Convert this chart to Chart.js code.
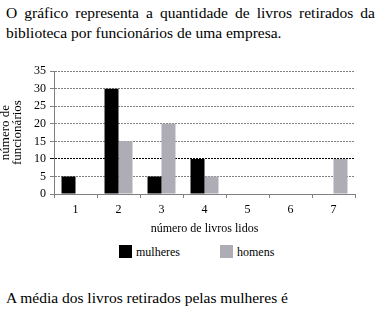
<!DOCTYPE html>
<html>
<head>
<meta charset="utf-8">
<script src="https://cdn.jsdelivr.net/npm/chart.js@4"></script>
<style>
  body { margin: 0; background: #fff; width: 379px; height: 309px; overflow: hidden; }
  .txt { position: absolute; left: 6px; width: 369px; font-family: "Liberation Serif", "Times New Roman", Times, serif; font-size: 15.5px; line-height: 20px; color: #000; text-align: justify; text-align-last: left; }
  #top { top: 3px; }
  #bottom { top: 288px; }
  #wrap { position: absolute; left: 0; top: 60px; width: 379px; height: 180px; }
  #legend { position: absolute; top: 245px; left: 0; width: 379px; height: 16px; font-family: "Liberation Serif", "Times New Roman", Times, serif; font-size: 12px; color: #000; }
  .item { position: absolute; top: 0; line-height: 14px; }
  .box { display: inline-block; width: 13px; height: 13px; vertical-align: top; margin-right: 4px; }
</style>
</head>
<body>
<div class="txt" id="top">O gráfico representa a quantidade de livros retirados da biblioteca por funcionários de uma empresa.</div>
<div id="wrap"><canvas id="chart"></canvas></div>
<div id="legend"></div>
<div class="txt" id="bottom">A média dos livros retirados pelas mulheres é</div>
<script>
var livros = ['1', '2', '3', '4', '5', '6', '7'];
var mulheres = [5, 30, 5, 10, 0, 0, 0];
var homens = [0, 15, 20, 5, 0, 0, 10];
var yTicks = [0, 5, 10, 15, 20, 25, 30, 35];

var serif = '"Liberation Serif", "Times New Roman", Times, serif';

var ctx = document.getElementById('chart');
var chart = new Chart(ctx, {
    type: 'bar',
    data: {
        labels: livros,
        datasets: [
            { label: 'mulheres', data: mulheres, backgroundColor: '#000000' },
            { label: 'homens', data: homens, backgroundColor: '#aeacb4' }
        ]
    },
    options: {
        responsive: true,
        maintainAspectRatio: false,
        animation: false,
        datasets: { bar: { categoryPercentage: 0.65, barPercentage: 1.0 } },
        layout: { padding: { top: 10, right: 24, left: 0, bottom: 0 } },
        plugins: {
            tooltip: { enabled: false },
            legend: { display: false }
        },
        scales: {
            x: {
                afterFit: function (scale) { scale.height = 46; },
                grid: { drawOnChartArea: false, drawTicks: true, tickLength: 4, color: '#808080', offset: true },
                border: { color: '#808080', width: 1 },
                ticks: { color: '#000', font: { family: serif, size: 12 }, padding: 5 },
                title: { display: true, text: 'número de livros lidos', color: '#000', font: { family: serif, size: 12 }, padding: { top: 4, bottom: 4 } }
            },
            y: {
                min: 0,
                max: 35,
                afterBuildTicks: function (scale) {
                    scale.ticks = yTicks.map(function (v) { return { value: v }; });
                },
                afterFit: function (scale) { scale.width = 54; },
                grid: {
                    color: function (c) { return c.tick && c.tick.value === 10 ? '#000000' : '#808080'; },
                    tickLength: 4,
                    drawTicks: true
                },
                border: { color: '#808080', width: 1, dash: [2, 1] },
                ticks: { color: '#000', font: { family: serif, size: 12 }, padding: 4, autoSkip: false },
                title: {
                    display: true,
                    text: ['número de', 'funcionários'],
                    color: '#000',
                    font: { family: serif, size: 13, lineHeight: 0.9 },
                    padding: { top: 0, bottom: 2 }
                }
            }
        }
    }
});

// legenda em HTML, montada a partir dos datasets
var legendX = [119, 220];
var legend = document.getElementById('legend');
chart.data.datasets.forEach(function (ds, i) {
    var item = document.createElement('span');
    item.className = 'item';
    item.style.left = legendX[i] + 'px';
    item.innerHTML = '<span class="box" style="background:' + ds.backgroundColor + '"></span>' + ds.label;
    legend.appendChild(item);
});
</script>
</body>
</html>
